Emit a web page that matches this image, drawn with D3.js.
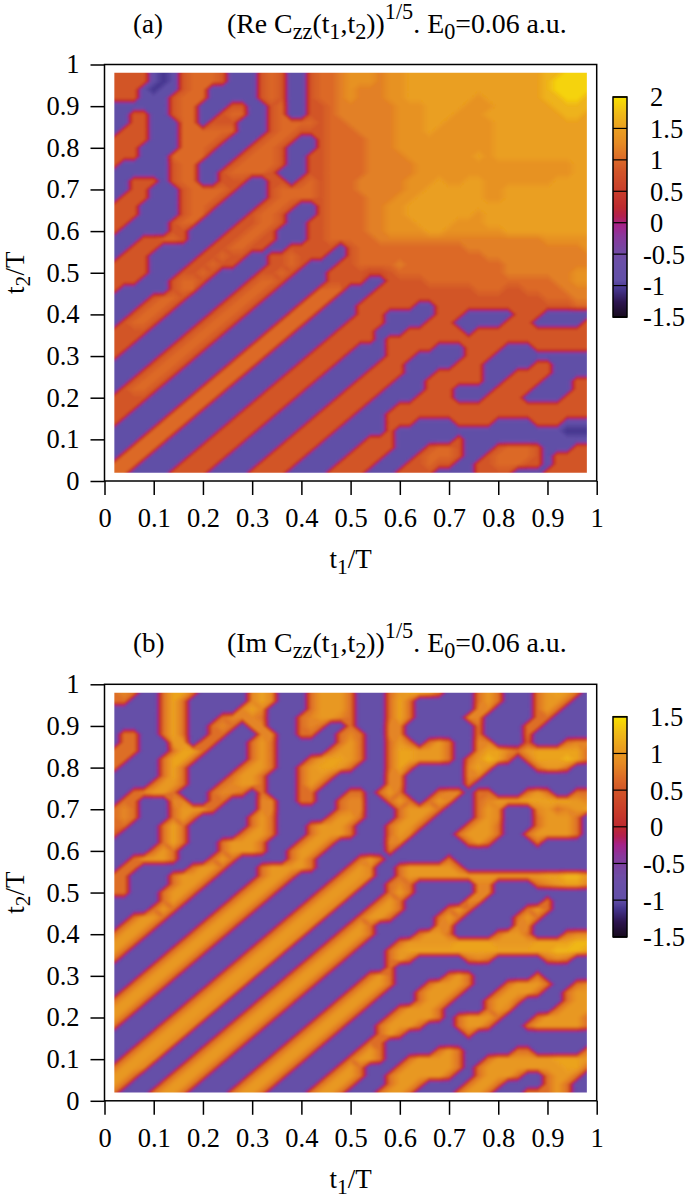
<!DOCTYPE html>
<html lang="en">
<head>
    <meta charset="UTF-8">
    <title>Re and Im Czz maps</title>
    <script src="https://d3js.org/d3.v7.min.js"></script>
    <style>
        body { margin: 0; background: white; }
        svg { display: block; }
        text { font-family: "Liberation Serif", serif; fill: black; }
    </style>
</head>
<body>
    <div id="chart"></div>
    <script>
        const width = 685;
        const height = 1198;

        const tickValues = [0, 0.1, 0.2, 0.3, 0.4, 0.5, 0.6, 0.7, 0.8, 0.9, 1];
        const tickLabels = ["0", "0.1", "0.2", "0.3", "0.4", "0.5", "0.6", "0.7", "0.8", "0.9", "1"];
        const barTicksA = [2, 1.5, 1, 0.5, 0, -0.5, -1, -1.5];
        const barTicksB = [1.5, 1, 0.5, 0, -0.5, -1, -1.5];

        // level digit -> value shown on the colour bar
        const levelsA = [-1.05, -0.9, 0.7, 0.85, 1.0, 1.18, 1.35, 1.52, 1.7, 1.92];
        const levelsB = [-1.05, -0.9, 0.55, 0.7, 0.85, 1.0, 1.1, 1.25, 1.35, 1.45];

        // palette, position 0..1 along the bar
        const paletteStops = [0, 0.07, 0.13, 0.17, 0.25, 0.3, 0.37, 0.42, 0.46, 0.5, 0.57, 0.67, 0.72, 0.79, 0.86, 0.93, 1];
        const paletteColors = ["#170a1c", "#2d1650", "#46368f", "#6250a8", "#6a50a8", "#7349a4", "#8a389c", "#a5228a",
            "#b3204f", "#bd2a30", "#c83c2b", "#d25628", "#dc6a28", "#e58a24", "#ea9f20", "#f0bb18", "#f8e000"];

        // rows from t2=0.98 down to t2=0.02, columns t1=0.02 .. 0.98, step 0.02
        const gridA = [
            "3333 101 34443 111 343 11 3 445666566 77777777777777 88999",
            "3333 101 34443 111 343 11 3 445666566 77777777777777 89999",
            "333 1011 344 11111 343 11 3 445655566 77777777777777 89999",
            "333 111 3444 11111 343 11 3 445655566 77777776777777 88998",
            "111111 344 111 33 11 34 11 3 345555556 66777766677777 78888",
            "11 33 11 344 11 344 11 34 11 3 345555556 66777666777777 77887",
            "11 33 111 44 1 333 111 34444 344555556 66776666677777 77777",
            "1 333 111 444444 111 34433 344455556 66766666677777 77777",
            "3333 111 44443 111 3443 11 344445556 66666666677777 77777",
            "333 1111 4443 111 3443 111 344445556 66666666677777 77777",
            "333 111 4444 111 34443 11 3 344445555 66666667677777 77777",
            "3 11111 344 111 344443 11 3 344445555 56666666666666 66677",
            "111111 344 11 344443 111 3 344445555 56666666666666 66677",
            "11 333 1 344 11 333 11 33 1 34 344455555 66676677666666 67777",
            "11 33 111 344443 111 34444 344455555 66777777667777 77777",
            "1 333 111 34443 1111 34444 344445556 67777777667777 77777",
            "333 1111 3443 1111 3443 11 344445566 77777777777777 77777",
            "333 1111 344 1111 3443 111 344445566 77777776777777 77777",
            "33 1111 344 1111 33443 11 3 344445566 67777666777777 77777",
            "3 11111 33 1111 33443 111 3 344445566 66776666667777 77777",
            "111 33443 111 334433 111 3 344444555 55555555555555 66666",
            "11 333 11111 334433 11 333 331344444 44444455555555 55556",
            "1 333 11111 33433 11 33433 311344444 44444444555555 55555",
            "3333 1111 33433 111 3343 1 113344445 44444444445555 55555",
            "3333 111 3343 1111 3343 11 133332234 44444444445555 55566",
            "333 111 3443 1111 3443 1111 3333 11 333344444444444445566",
            "3 11111 344 1111 3443 1111 444 111 3333333333444334444555",
            "1111 3443 1111 3443 1111 444 111 33333333333333333344455",
            "111 3443 1111 3443 1111 444 111 333333 11 3333333333333344",
            "11 3443 1111 3443 1111 444 1111 333 11111 333 11111 333 11111",
            "1 3443 1111 3443 1111 444 1111 3333 1111 333 11111 333 11111 3",
            "3333 1111 3443 1111 444 1111 3333 111 333333 1 333333333333",
            "333 1111 3443 1111 444 1111 33333 1 333333333333333333333",
            "33 1111 3443 1111 444 1111 3333 111 33333 111 3333 111 333333",
            "3 1111 3443 1111 444 1111 3333 1111 333 11111 333 1111111111",
            "1111 3443 1111 444 1111 3333 1111 333 11111 333 11111 33 1111",
            "111 3443 1111 444 1111 3333 1111 3333 111 33333 111 3333 1111",
            "11 3443 1111 444 1111 3333 1111 3333 111 333333 11 3333 111 33",
            "1 3443 1111 444 1111 3333 1111 3333 1111 333 1111 3333 1111 33",
            "3333 1111 444 1111 3333 1111 3333 1111 3333 111 3333 1111 333",
            "333 1111 444 1111 3333 1111 3333 111 33333333333333333333",
            "33 1111 444 1111 3333 1111 3333 111 333333333333333333333",
            "3 1111 444 1111 3333 1111 3333 1111 333 1111 3333 1111 333 111",
            "1111 444 1111 3333 1111 3333 11111 3 11111111111111111000",
            "111 444 1111 3333 1111 3333 1111 333 111111 3 1111111111111",
            "11 444 1111 3333 1111 3333 1111 3333 111 3443 111 34443 111 33",
            "1 444 1111 3333 1111 3333 1111 3333 111 34443 11 344443 1 3333",
            "444 1111 3333 1111 3333 1111 3333 111 33433 11 3344433 1 3333",
            "44 1111 3333 1111 3333 1111 3333 111 3333 1111 3333 111 33333"
        ];

        const gridB = [
            "343 11 3663 11111 464 111 35553 111 356653 111 353 111 35653 1",
            "33 111 363 111111 464 111 35553 111 363 111111 353 111 3553 11",
            "11111 363 11111 464 1111 35553 111 363 111111 44 1111 353 111",
            "11111 363 111 34443 111 345543 111 363 11111 44 11111 33 1111",
            "11111 363 11 343 1 44 111 343 11 3 111 44 1111111 3 1111 33 11111",
            "1 33 11 363 11 33 111 44 11 33 11 343 11 44 1111111 3 1111 3 111111",
            "1 33 111 55 1 33 111 353 111111 353 11 353 1 353 11 44 111 2 111 344",
            "333 111 3663 1111 353 11111 3553 11 3665553 11 4664 35666663",
            "33 111 3663 11111 353 111 356653 11 3665553 1 35763 1 3666763",
            "3 1111 363 11111 3553 11 356653 111 363 11111 464 1111 3553 11",
            "11111 363 1111 3553 111 3553 11111 44 111111 44 11111111111",
            "1111 3553 111 34553 111 353 111111 44 111111 3 111111111111",
            "11 34553 111 3443 1 3 111 33 111 33 1 353 111 344 1 33 111 353 11 33",
            "1 33 111 44 11 33 111 44 11 33 11 344 11 353 1 354 11 345556666654",
            "343 111 35553 1111 44 111111 344 111 35553 111 354 111 453456",
            "343 111 353 11111 353 11111 3553 111 3553 1111 354 111 35553 1",
            "33 111 363 111111 353 111 35553 111 3553 1111 3553 111 35553 1",
            "2 1111 363 11111 3553 111 35553 111 354 1111 35553 11 355553 1",
            "11111 363 111 35553 111 3553 11111 44 111111 353 1111 3 11111",
            "1111 353 1111 35553 11 3553 111111 3 11111111111111111111",
            "11 35553 111 353 11111 353 1111 353 111111 3 11111111111111",
            "1 33 11111 3553 111 355553 111 354 11 3555553 1111111111111",
            "33 1111 35553 1111 3553 1111 3554 11 35555555555555566775",
            "33 1111 3553 1111 3553 1111 3554 11 343 111111 44 1111 345664",
            "33 111 3553 1111 3553 1111 3554 111 353 111111 44 1111111111",
            "11111 353 1111 3553 1111 3554 111 353 111111 44 111111 3 1111",
            "1111 353 1111 3553 1111 3554 111 3553 1111 353 11111 353 1111",
            "11 3553 1111 3553 1111 3554 111 3553 1111 353 11111 353 11111",
            "1 3553 1111 3553 1111 3554 111 353 111111 44 111111 44 111111",
            "3553 1111 3553 1111 3554 111 3553 1111 3553 1111 3553 111 344",
            "553 1111 3553 1111 3554 111 3553 111 35555566665555666677",
            "53 1111 3553 1111 3554 111 3553 111 356666666666666667776",
            "3 1111 3553 1111 3554 111 3553 1111 353 11111 343 11111 343 11",
            "1111 3553 1111 3554 111 3553 11111 3 11111111111111111111",
            "111 3553 1111 3554 111 3553 1111 353 11111 353 111111 3 11111",
            "11 3553 1111 3554 111 3553 1111 3553 111 35553 111 35553 11 34",
            "1 3553 1111 3554 111 3553 1111 3553 111 35553 111 35553 11 355",
            "3553 1111 3554 111 3553 1111 3553 1111 3553 111 3553 1111 355",
            "553 1111 3554 111 3553 1111 3553 111 35553 1111 354 1111 3555",
            "53 1111 3554 111 3553 1111 3553 111 355553 1 35553 111 355553",
            "3 1111 3554 111 3553 1111 3553 111 35553 111 3553 111 3555553",
            "1111 3554 111 3553 1111 3553 1111 353 111111 3 111111111111",
            "111 3554 111 3553 1111 3553 1111 33 111111111111111111111",
            "11 3554 111 3553 1111 3553 1111 353 11111 353 11111 33 11111 3",
            "1 3554 111 3553 1111 3553 1111 3553 11 355553 11 35555556665",
            "3554 111 3553 1111 3553 1111 353 111 3555553 1 355555555663",
            "553 111 3553 1111 3553 1111 3553 11 3555553 11 35553 11 3553 1",
            "53 111 3553 1111 3553 1111 3553 111 3553 1111 3553 1111 353 11",
            "3 111 3553 1111 3553 1111 3553 111 3553 1111 3553 111 33 353 11"
        ];

        const titleA = [["(Re C", 0], ["zz", 1], ["(t", 0], ["1", 1], [",t", 0], ["2", 1], ["))", 0], ["1/5", -1], [". E", 0], ["0", 1], ["=0.06 a.u.", 0]];
        const titleB = [["(Im C", 0], ["zz", 1], ["(t", 0], ["1", 1], [",t", 0], ["2", 1], ["))", 0], ["1/5", -1], [". E", 0], ["0", 1], ["=0.06 a.u.", 0]];

        const n = 49;
        const svg = d3.select("#chart").append("svg")
            .attr("width", width)
            .attr("height", height);

        // the reference raster is soft, blur the filled bands a little
        svg.append("filter").attr("id", "soft")
            .append("feGaussianBlur").attr("stdDeviation", 1.2);

        const palette = d3.scaleLinear()
            .domain(paletteStops)
            .range(paletteColors)
            .interpolate(d3.interpolateRgb);

        // steepen the step through zero between neighbouring cells
        const power = 1.25;
        const toField = d => Math.sign(d) * Math.pow(Math.abs(d), power);

        function addRichText(parent, parts, fontSize) {
            let shift = 0;
            parts.forEach(([str, pos]) => {
                const size = pos === 0 ? fontSize : fontSize * 0.8;
                const target = pos * (pos > 0 ? fontSize * 0.22 : fontSize * 0.5);
                parent.append("tspan")
                    .attr("dy", target - shift)
                    .attr("font-size", size)
                    .text(str);
                shift = target;
            });
        }

        function drawPanel(cfg) {
            const x = d3.scaleLinear().domain([0, 1]).range([104.5, 596.7]);
            const y = d3.scaleLinear().domain([0, 1]).range([cfg.top + 416.5, cfg.top]);
            const color = d3.scaleLinear().domain(cfg.range).range([0, 1]).clamp(true);

            const values = [];
            cfg.grid.forEach(row => {
                const cells = row.replace(/ /g, "");
                if (cells.length !== n) console.error("row length", cells.length, row);
                for (let c = 0; c < n; c++) values.push(toField(cfg.levels[+cells[c]]));
            });

            const shown = d3.range(-1.25, 2.0, 0.025);
            const contours = d3.contours()
                .size([n, n])
                .thresholds(shown.map(toField))(values);

            // grid coordinates to chart coordinates
            const gridPath = d3.geoPath().projection(d3.geoTransform({
                point: function (gx, gy) {
                    this.stream.point(x(0.01 + 0.02 * gx), y(0.99 - 0.02 * gy));
                }
            }));

            svg.append("clipPath").attr("id", cfg.id + "-clip")
                .append("rect")
                .attr("x", x(0.02))
                .attr("y", y(0.98))
                .attr("width", x(0.98) - x(0.02))
                .attr("height", y(0.02) - y(0.98));

            svg.append("g")
                .attr("clip-path", `url(#${cfg.id}-clip)`)
                .append("g")
                .attr("filter", "url(#soft)")
                .selectAll("path")
                .data(contours)
                .join("path")
                .attr("d", gridPath)
                .attr("fill", (d, i) => palette(color(shown[i] + 0.0125)));

            // axes
            const xAxis = d3.axisBottom(x).tickValues(tickValues)
                .tickFormat((d, i) => tickLabels[i]).tickSize(14).tickSizeOuter(0).tickPadding(13);
            const yAxis = d3.axisLeft(y).tickValues(tickValues)
                .tickFormat((d, i) => tickLabels[i]).tickSize(14).tickSizeOuter(0).tickPadding(11);

            [svg.append("g").attr("transform", `translate(0,${y(0)})`).call(xAxis),
             svg.append("g").attr("transform", `translate(${x(0)},0)`).call(yAxis)].forEach(g => {
                g.select(".domain").remove();
                g.selectAll("line").attr("stroke", "black").attr("stroke-width", 1.5);
                g.selectAll("text").attr("font-size", 26.5).attr("font-family", "Liberation Serif");
            });

            svg.append("rect")
                .attr("x", x(0)).attr("y", y(1))
                .attr("width", x(1) - x(0)).attr("height", y(0) - y(1))
                .attr("fill", "none").attr("stroke", "black").attr("stroke-width", 1.5);

            // titles and axis labels
            svg.append("text").attr("x", 133).attr("y", cfg.top - 32).attr("font-size", 27).text(cfg.tag);
            addRichText(svg.append("text").attr("x", 227).attr("y", cfg.top - 32), cfg.title, 27.8);
            addRichText(svg.append("text").attr("x", x(0.5)).attr("y", y(0) + 87).attr("text-anchor", "middle"),
                [["t", 0], ["1", 1], ["/T", 0]], 27);
            addRichText(svg.append("text").attr("text-anchor", "middle")
                .attr("transform", `translate(24,${y(0.5)}) rotate(-90)`),
                [["t", 0], ["2", 1], ["/T", 0]], 27);

            // colour bar
            const barY = d3.scaleLinear().domain(cfg.range).range([cfg.top + 252.5, cfg.top + 32.5]);
            const barSteps = d3.range(0, 1.0001, 1 / 220);
            const bar = svg.append("g");
            bar.selectAll("rect")
                .data(barSteps)
                .join("rect")
                .attr("x", 613)
                .attr("y", t => barY(cfg.range[0] + t * (cfg.range[1] - cfg.range[0])) - 1)
                .attr("width", 14)
                .attr("height", 2)
                .attr("fill", t => palette(t));
            bar.selectAll("line")
                .data(cfg.barTicks)
                .join("line")
                .attr("x1", 613).attr("x2", 627)
                .attr("y1", d => barY(d)).attr("y2", d => barY(d))
                .attr("stroke", "black").attr("stroke-width", 1.2);
            bar.append("rect")
                .attr("x", 613).attr("y", barY(cfg.range[1]))
                .attr("width", 14).attr("height", barY(cfg.range[0]) - barY(cfg.range[1]))
                .attr("fill", "none").attr("stroke", "black").attr("stroke-width", 1.5);
            bar.selectAll("text")
                .data(cfg.barTicks)
                .join("text")
                .attr("x", d => d < 0 ? 643 : 650)
                .attr("y", d => barY(d) + 1)
                .attr("dy", "0.32em")
                .attr("font-size", 26.5)
                .text(d => d);
        }

        drawPanel({ id: "a", top: 64.5, grid: gridA, levels: levelsA, range: [-1.5, 2], barTicks: barTicksA, tag: "(a)", title: titleA });
        drawPanel({ id: "b", top: 684.3, grid: gridB, levels: levelsB, range: [-1.5, 1.5], barTicks: barTicksB, tag: "(b)", title: titleB });
    </script>
</body>
</html>
